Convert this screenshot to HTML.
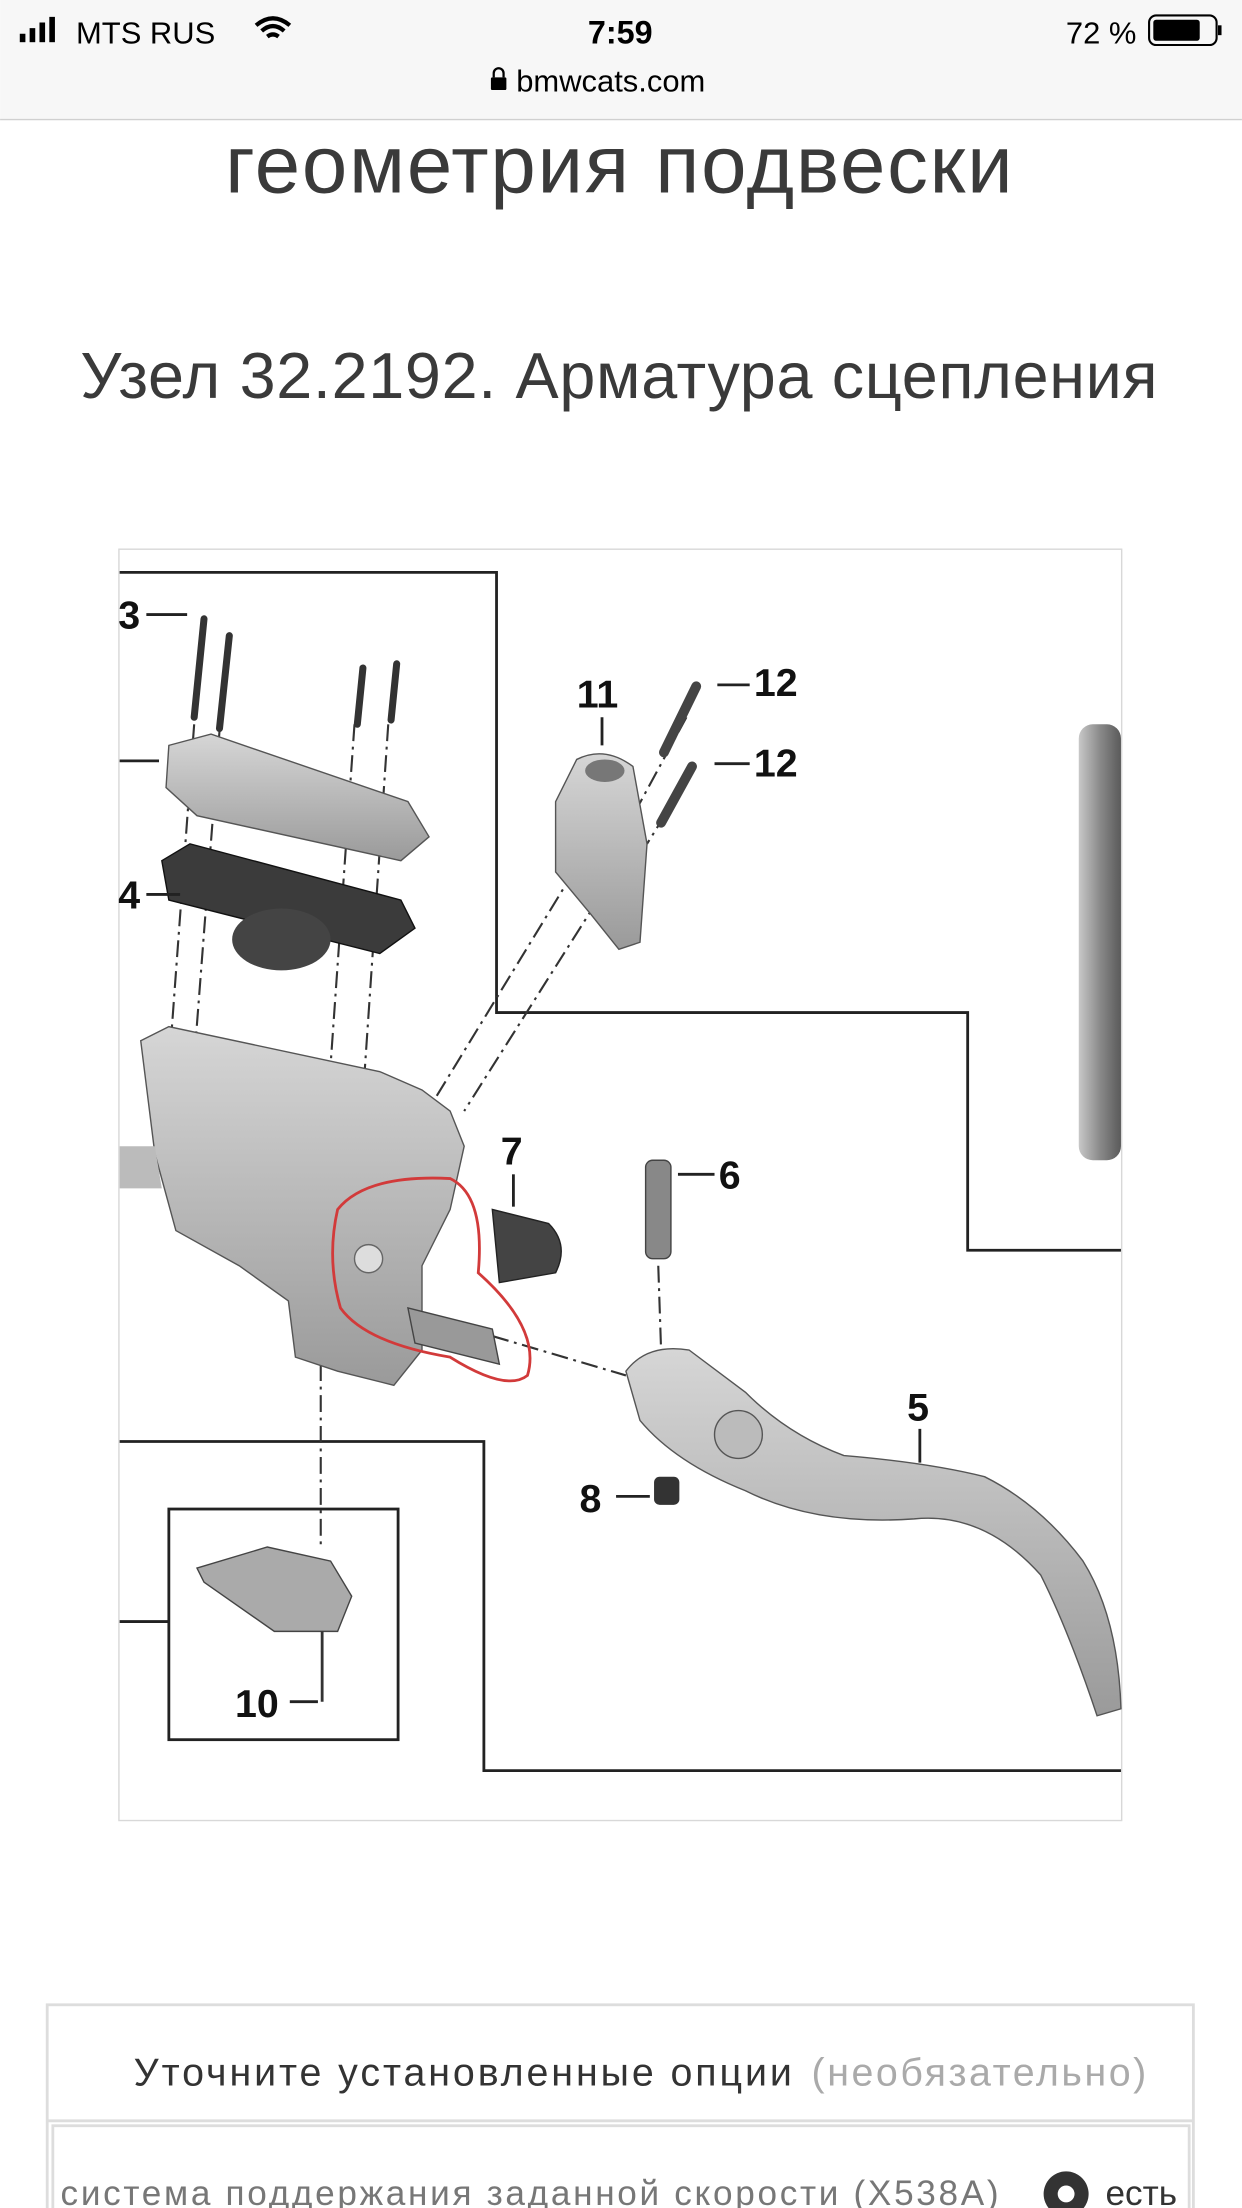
<!DOCTYPE html>
<html><head><meta charset="utf-8"><style>
html,body{margin:0;padding:0;background:#fff;}
svg{display:block;}
text{font-family:"Liberation Sans","Noto Sans CJK SC",sans-serif;}
</style></head><body>
<svg width="1242" height="2208" viewBox="0 0 883 1570" xmlns="http://www.w3.org/2000/svg">
<defs>
<linearGradient id="cyl" x1="0" x2="1"><stop offset="0" stop-color="#c8c8c8"/><stop offset="0.5" stop-color="#8a8a8a"/><stop offset="1" stop-color="#5a5a5a"/></linearGradient>
<linearGradient id="metal" x1="0" y1="0" x2="0" y2="1"><stop offset="0" stop-color="#d6d6d6"/><stop offset="1" stop-color="#9a9a9a"/></linearGradient>
</defs>
<rect x="0" y="0" width="883" height="85" fill="#f7f7f7"/>
<line x1="0" y1="85" x2="883" y2="85" stroke="#d0d0d0"/>
<rect x="14" y="24" width="4" height="6" fill="#000"/><rect x="21" y="20" width="4" height="10" fill="#000"/><rect x="28" y="16" width="4" height="14" fill="#000"/><rect x="35" y="12" width="4" height="18" fill="#000"/>
<text x="54" y="31" font-size="22" fill="#000">MTS RUS</text>
<path d="M182 18 q12-10 24 0 M186 22 q8-7 16 0 M190 26 q4-3 8 0" stroke="#000" stroke-width="3" fill="none"/>
<text x="441" y="31" font-size="23" font-weight="bold" text-anchor="middle" fill="#000">7:59</text>
<text x="808" y="31" font-size="22" text-anchor="end" fill="#000">72 %</text>
<rect x="817" y="11" width="48" height="21" rx="5" fill="none" stroke="#000" stroke-width="1.5"/>
<rect x="820" y="14" width="33" height="15" rx="2" fill="#000"/>
<rect x="866" y="18" width="2.5" height="7" fill="#000"/>
<rect x="349" y="55" width="11" height="9" rx="1" fill="#000"/><path d="M351 55 v-3 a3.5 3.5 0 0 1 7 0 v3" stroke="#000" stroke-width="1.6" fill="none"/>
<text x="367" y="65" font-size="22" fill="#000">bmwcats.com</text>
<text x="160" y="137" font-size="58" textLength="560" lengthAdjust="spacing" fill="#3a3a3a">геометрия подвески</text>
<text x="57" y="283" font-size="46" textLength="766" lengthAdjust="spacing" fill="#3a3a3a">Узел 32.2192. Арматура сцепления</text>
<rect x="84.5" y="390.5" width="713" height="904" fill="#fff" stroke="#d8d8d8"/>
<g stroke="#222" stroke-width="2" fill="none">
<polyline points="85,407 353,407 353,720 688,720 688,889 797,889"/>
<line x1="85" y1="541" x2="113" y2="541"/>
<polyline points="85,1025 344,1025 344,1259 797,1259"/>
<rect x="120" y="1073" width="163" height="164"/>
<line x1="85" y1="1153" x2="120" y2="1153"/>
</g>
<rect x="767" y="515" width="30" height="310" rx="10" fill="url(#cyl)"/>
<g stroke="#333" stroke-width="5" stroke-linecap="round">
<line x1="145" y1="440" x2="138" y2="510"/><line x1="163" y1="452" x2="156" y2="518"/>
<line x1="258" y1="475" x2="254" y2="515"/><line x1="282" y1="472" x2="278" y2="512"/>
</g>
<g stroke="#333" stroke-width="1.5" stroke-dasharray="12,4,2,4" fill="none">
<line x1="138" y1="515" x2="120" y2="760"/><line x1="156" y1="520" x2="136" y2="780"/>
<line x1="252" y1="515" x2="232" y2="800"/><line x1="276" y1="515" x2="258" y2="780"/>
<line x1="420" y1="600" x2="310" y2="780"/><line x1="425" y1="640" x2="330" y2="790"/>
<line x1="488" y1="510" x2="450" y2="580"/><line x1="485" y1="560" x2="460" y2="600"/>
<line x1="228" y1="970" x2="228" y2="1100"/><line x1="350" y1="950" x2="445" y2="978"/>
<line x1="468" y1="900" x2="470" y2="960"/>
</g>
<path d="M120 530 L150 522 L290 570 L305 595 L285 612 L140 580 L118 560 Z" fill="url(#metal)" stroke="#555"/>
<path d="M115 612 L135 600 L285 640 L295 660 L270 678 L120 640 Z" fill="#3b3b3b" stroke="#111"/>
<ellipse cx="200" cy="668" rx="35" ry="22" fill="#444"/>
<path d="M100 740 L120 730 L270 762 L300 775 L320 790 L330 815 L320 860 L300 900 L300 960 L280 985 L240 975 L210 965 L205 925 L170 900 L125 875 L110 820 Z" fill="url(#metal)" stroke="#555"/>
<path d="M85 815 L110 815 L115 845 L85 845 Z" fill="#bbb"/>
<circle cx="262" cy="895" r="10" fill="#ddd" stroke="#666"/>
<path d="M290 930 L350 945 L355 970 L295 955 Z" fill="#999" stroke="#444"/>
<path d="M240 860 Q260 835 320 838 Q345 850 340 905 Q385 945 375 978 Q360 990 320 965 Q260 955 242 930 Q232 895 240 860 Z" fill="none" stroke="#d23a3a" stroke-width="2"/>
<path d="M350 860 L390 870 Q405 885 395 905 L355 912 Z" fill="#444" stroke="#222"/>
<path d="M395 570 L410 540 Q430 530 450 545 L460 600 L455 670 L440 675 L420 650 L395 620 Z" fill="url(#metal)" stroke="#555"/>
<ellipse cx="430" cy="548" rx="14" ry="8" fill="#777"/>
<g stroke="#444" stroke-width="7" stroke-linecap="round"><line x1="495" y1="488" x2="472" y2="535"/><line x1="492" y1="545" x2="470" y2="585"/></g>
<rect x="459" y="825" width="18" height="70" rx="5" fill="#888" stroke="#444"/>
<path d="M445 975 Q460 955 490 960 L530 990 Q560 1020 600 1035 Q660 1040 700 1050 Q740 1070 770 1110 Q795 1150 797 1215 L780 1220 Q760 1160 740 1120 Q700 1075 650 1080 Q580 1085 530 1060 Q480 1040 455 1010 Z" fill="url(#metal)" stroke="#555"/>
<circle cx="525" cy="1020" r="17" fill="#bbb" stroke="#555"/>
<rect x="465" y="1050" width="18" height="20" rx="4" fill="#333"/>
<path d="M140 1115 L190 1100 L235 1110 L250 1135 L240 1160 L195 1160 L145 1125 Z" fill="#aaa" stroke="#444"/>
<line x1="229" y1="1160" x2="229" y2="1210" stroke="#333" stroke-width="2"/>
<g stroke="#222" stroke-width="2">
<line x1="104" y1="437" x2="133" y2="437"/><line x1="104" y1="636" x2="128" y2="636"/>
<line x1="428" y1="510" x2="428" y2="530"/><line x1="510" y1="487" x2="533" y2="487"/><line x1="508" y1="543" x2="533" y2="543"/>
<line x1="365" y1="835" x2="365" y2="858"/><line x1="482" y1="835" x2="508" y2="835"/>
<line x1="654" y1="1016" x2="654" y2="1040"/><line x1="438" y1="1064" x2="462" y2="1064"/><line x1="206" y1="1210" x2="226" y2="1210"/>
</g>
<g font-size="28" font-weight="bold" fill="#111">
<text x="84" y="447">3</text><text x="84" y="646">4</text>
<text x="410" y="503">11</text><text x="536" y="495">12</text><text x="536" y="552">12</text>
<text x="356" y="828">7</text><text x="511" y="845">6</text><text x="645" y="1010">5</text>
<text x="412" y="1075">8</text><text x="167" y="1221">10</text>
</g>
<rect x="33.5" y="1425.5" width="815" height="160" fill="#fff" stroke="#ddd" stroke-width="2"/>
<line x1="33" y1="1508" x2="849" y2="1508" stroke="#ddd" stroke-width="2"/>
<rect x="37.5" y="1511.5" width="808" height="80" fill="#fff" stroke="#ddd" stroke-width="2"/>
<text x="95" y="1483" font-size="28" fill="#333" textLength="468" lengthAdjust="spacing">Уточните установленные опции</text>
<text x="577" y="1483" font-size="28" fill="#aaa" textLength="238" lengthAdjust="spacing">(необязательно)</text>
<text x="43" y="1568" font-size="25" fill="#777" textLength="667" lengthAdjust="spacing">система поддержания заданной скорости (X538A)</text>
<circle cx="758" cy="1560" r="16" fill="#333"/><circle cx="758" cy="1560" r="6" fill="#fff"/>
<text x="786" y="1568" font-size="25" fill="#333">есть</text>
</svg>
</body></html>
